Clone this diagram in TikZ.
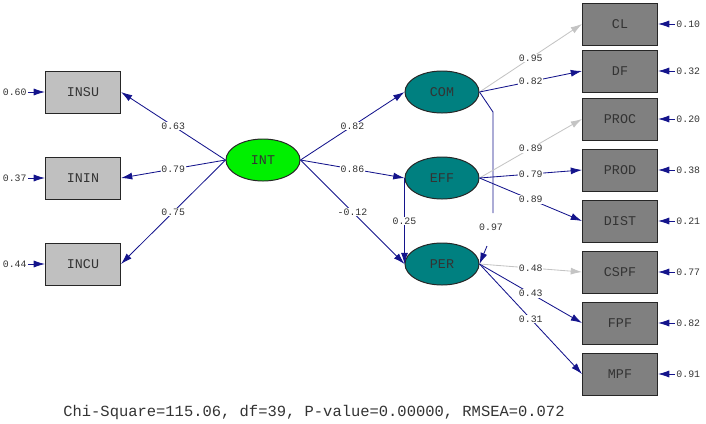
\documentclass[tikz,border=0pt]{standalone}
\usepackage{fontspec}
\setmonofont{Liberation Mono}
\usepackage{xcolor}
\usepackage{tikz}
\usetikzlibrary{positioning, shapes.geometric, arrows.meta}

\definecolor{pathblue}{RGB}{20,20,140}
\definecolor{fadepath}{RGB}{196,196,196}
\definecolor{lightbox}{RGB}{192,192,192}
\definecolor{darkbox}{RGB}{128,128,128}
\definecolor{latteal}{RGB}{0,128,128}
\definecolor{latgreen}{RGB}{0,240,0}

\tikzset{
  obsbox/.style={draw=black!85, line width=0.7pt, minimum width=1.875cm, minimum height=1.05cm,
    inner sep=0pt, text=black!80, font=\ttfamily\fontsize{9.5}{10}\selectfont},
  latent/.style={ellipse, draw=black!85, line width=0.7pt, fill=latteal, minimum width=1.85cm,
    minimum height=1.05cm, inner sep=0pt, text=black!80, font=\ttfamily\fontsize{9.5}{10}\selectfont},
  pathline/.style={draw=pathblue, line width=0.6pt, -{Latex[length=8pt,width=5pt]}},
  fadeline/.style={draw=fadepath, line width=0.6pt, -{Latex[length=8pt,width=5pt]}},
  coef/.style={fill=white, inner sep=0.6pt, text=black!80, font=\ttfamily\fontsize{7}{8}\selectfont},
  errlbl/.style={inner sep=1pt, text=black!80, font=\ttfamily\fontsize{7}{8}\selectfont}
}

\begin{document}
\begin{tikzpicture}[x=0.025cm, y=-0.025cm]
  \useasboundingbox (0,0) rectangle (706,423);

  % Indicators of INT (left)
  \foreach \name/\txt/\y/\err in {insu/INSU/92/0.60, inin/ININ/178/0.37, incu/INCU/264/0.44} {
    \node[obsbox, fill=lightbox] (\name) at (83,\y) {\txt};
    \node[errlbl, left=0.42cm of \name] (e\name) {\err};
    \draw[pathline] (e\name) -- (\name);
  }

  % Indicators on the right
  \foreach \name/\txt/\y/\err in {cl/CL/24/0.10, df/DF/71/0.32, proc/PROC/119/0.20, prod/PROD/170/0.38,
      dist/DIST/221/0.21, cspf/CSPF/272/0.77, fpf/FPF/323/0.82, mpf/MPF/374/0.91} {
    \node[obsbox, fill=darkbox] (\name) at (620,\y) {\txt};
    \node[errlbl, right=0.42cm of \name] (e\name) {\err};
    \draw[pathline] (e\name) -- (\name);
  }

  % Latent variables
  \node[latent, fill=latgreen] (int) at (263,160) {INT};
  \node[latent] (com) at (442,92) {COM};
  \node[latent] (eff) at (442,178) {EFF};
  \node[latent] (per) at (442,264) {PER};

  % INT loadings
  \draw[pathline] (int.west) -- node[coef] {0.63} (insu.east);
  \draw[pathline] (int.west) -- node[coef] {0.79} (inin.east);
  \draw[pathline] (int.west) -- node[coef] {0.75} (incu.east);

  % Structural paths
  \draw[pathline] (int.east) -- node[coef] {0.82} (com.west);
  \draw[pathline] (int.east) -- node[coef] {0.86} (eff.west);
  \draw[pathline] (int.east) -- node[coef] {-0.12} (per.west);
  \draw[pathline] (eff.west) -- node[coef] {0.25} (per.west);
  \coordinate (bend) at (493,112);
  \coordinate (gaptop) at (493,213);
  \coordinate (gapbot) at (487,246);
  \draw[pathline] (com.east) -- (bend) -- (gaptop) (gapbot) -- (per.east);
  \node[coef] (c97) at (491,227) {0.97};

  % Loadings on the right
  \draw[fadeline] (com.east) -- node[coef] {0.95} (cl.west);
  \draw[pathline] (com.east) -- node[coef] {0.82} (df.west);
  \draw[fadeline] (eff.east) -- node[coef] {0.89} (proc.west);
  \draw[pathline] (eff.east) -- node[coef] {0.79} (prod.west);
  \draw[pathline] (eff.east) -- node[coef] {0.89} (dist.west);
  \draw[fadeline] (per.east) -- node[coef] {0.48} (cspf.west);
  \draw[pathline] (per.east) -- node[coef] {0.43} (fpf.west);
  \draw[pathline] (per.east) -- node[coef] {0.31} (mpf.west);

  % Fit statistics
  \node[text=black!80, font=\ttfamily\fontsize{11}{12}\selectfont] (fit) at (314,412)
    {Chi-Square=115.06, df=39, P-value=0.00000, RMSEA=0.072};
\end{tikzpicture}
\end{document}
